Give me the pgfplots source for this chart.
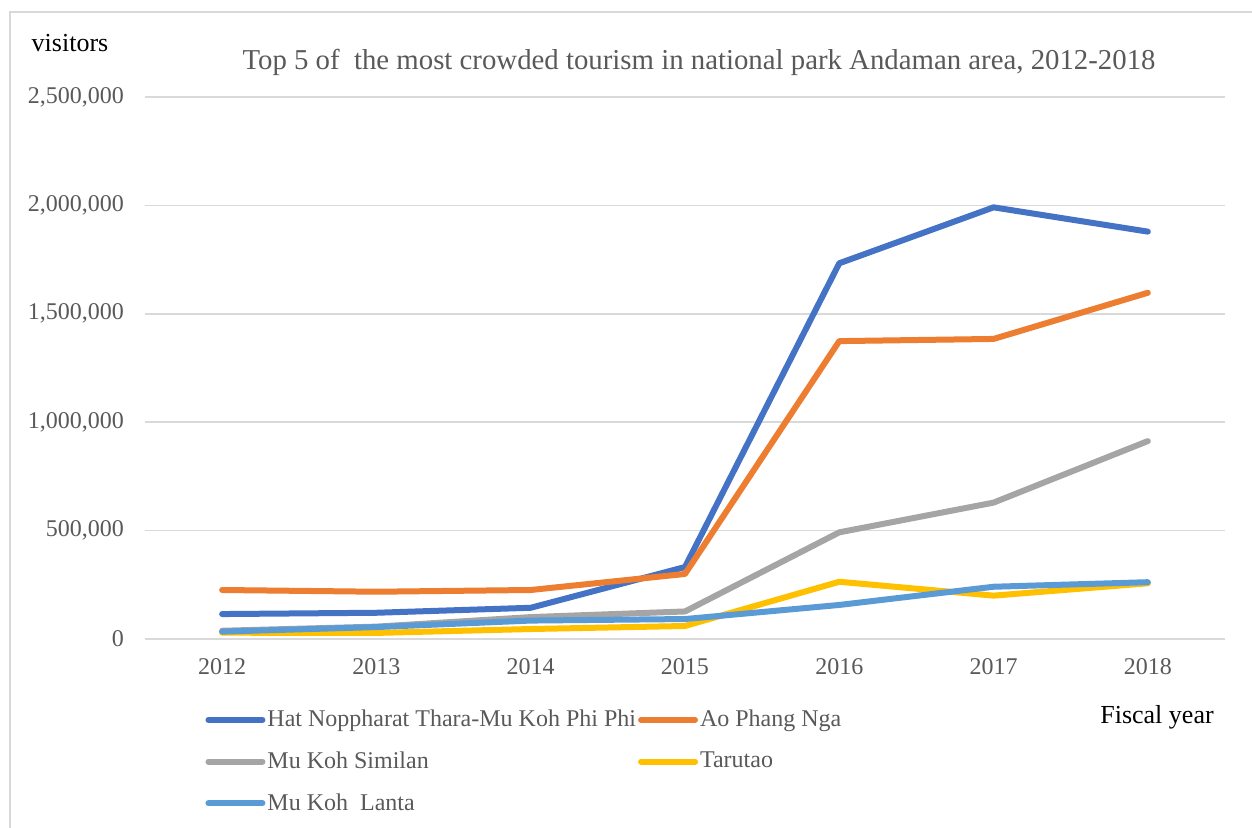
\documentclass[border=0pt]{standalone}
\usepackage{pgfplots}
\pgfplotsset{compat=1.18}
\usepackage{fontspec}
\setmainfont{Liberation Serif}
\definecolor{cBlue}{HTML}{4472C4}
\definecolor{cOrange}{HTML}{ED7D31}
\definecolor{cGray}{HTML}{A5A5A5}
\definecolor{cYellow}{HTML}{FFC000}
\definecolor{cLBlue}{HTML}{5B9BD5}
\definecolor{cGrid}{HTML}{D9D9D9}
\definecolor{cText}{HTML}{595959}
\begin{document}
\begin{tikzpicture}
\begin{axis}[
  scale only axis,
  width=540pt, height=271pt,
  at={(0,0)}, anchor=south west,
  xmin=2011.5, xmax=2018.5,
  ymin=0, ymax=2500000,
  xtick={2012,2013,2014,2015,2016,2017,2018},
  ytick={0,500000,1000000,1500000,2000000,2500000},
  scaled y ticks=false,
  /pgf/number format/assume math mode=true,
  yticklabel style={/pgf/number format/fixed, /pgf/number format/1000 sep={,}, xshift=-7pt},
  xticklabel style={/pgf/number format/1000 sep={}, yshift=-6pt},
  ticklabel style={font=\fontsize{12}{14}\selectfont, text=cText},
  major tick length=0pt,
  axis line style={draw=none},
  ymajorgrids,
  grid style={cGrid, line width=0.75pt},
  clip=false,
  legend columns=2,
  legend cell align=left,
  legend style={at={(0.0556,-0.123)}, anchor=north west, draw=none, fill=none,
    inner sep=0pt, font=\fontsize{12}{14}\selectfont, text=cText,
    row sep=7pt,
    /tikz/every even column/.append style={column sep=0pt},
    nodes={inner ysep=2pt, inner xsep=1pt}},
  legend image code/.code={\draw[#1, line cap=round] (0pt,0pt) -- (27pt,0pt);},
  every axis plot/.append style={line width=3pt, line join=round, line cap=round},
]
\addplot[cBlue] coordinates {(2012,115000) (2013,121000) (2014,144000) (2015,332000) (2016,1733000) (2017,1991000) (2018,1879000)};
\addlegendentry{Hat Noppharat Thara-Mu Koh Phi Phi}
\addplot[cOrange] coordinates {(2012,226000) (2013,218000) (2014,226000) (2015,300000) (2016,1374000) (2017,1384000) (2018,1597000)};
\addlegendentry{Ao Phang Nga}
\addplot[cGray] coordinates {(2012,38000) (2013,57000) (2014,101000) (2015,127000) (2016,492000) (2017,629000) (2018,913000)};
\addlegendentry{Mu Koh Similan}
\addplot[cYellow] coordinates {(2012,29000) (2013,28000) (2014,46000) (2015,60000) (2016,264000) (2017,200000) (2018,257000)};
\addlegendentry{Tarutao}
\addplot[cLBlue] coordinates {(2012,34000) (2013,55000) (2014,85000) (2015,92000) (2016,157000) (2017,241000) (2018,262000)};
\addlegendentry{Mu Koh\ \ Lanta}
\end{axis}
\node[font=\fontsize{14.4}{17}\selectfont, text=cText] at (277pt,288.5pt) {Top 5 of\ \ the most crowded tourism in national park Andaman area, 2012-2018};
\node[font=\fontsize{13}{15}\selectfont] at (-37.5pt,298pt) {visitors};
\node[font=\fontsize{13}{15}\selectfont] at (506pt,-39pt) {Fiscal year};
\draw[cGrid, line width=0.75pt] (-67.5pt,-120pt) -- (-67.5pt,313.5pt) -- (560pt,313.5pt);
\pgfresetboundingbox
\path[use as bounding box] (-72.5pt,-94.5pt) rectangle (553.5pt,319.5pt);
\end{tikzpicture}
\end{document}
